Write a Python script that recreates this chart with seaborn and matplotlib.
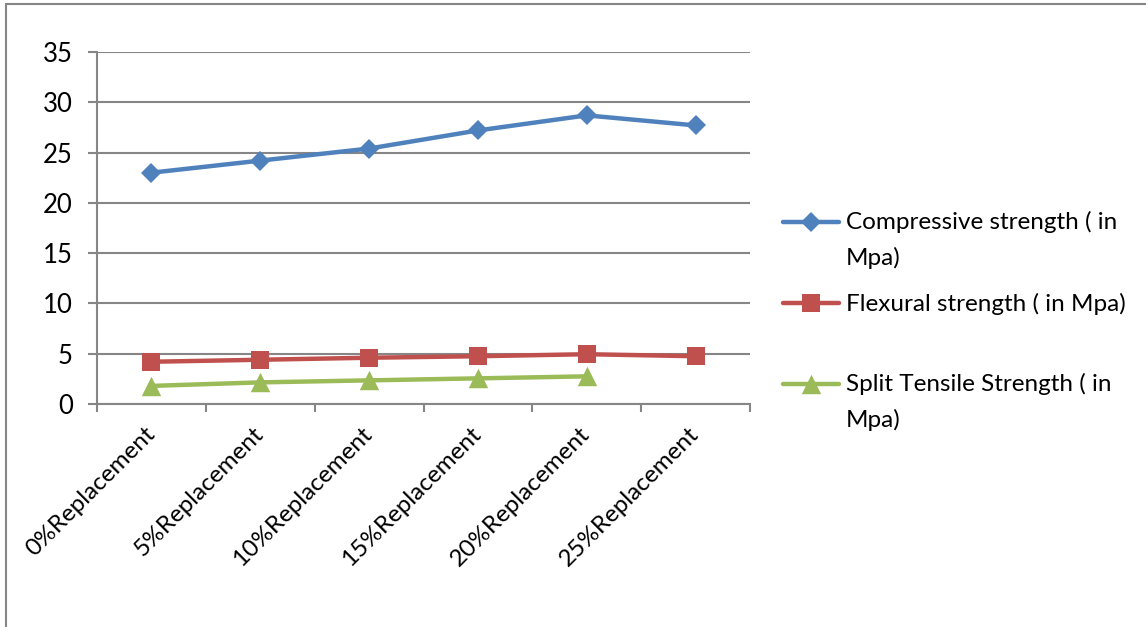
import numpy as np
import matplotlib
matplotlib.use("Agg")
import matplotlib.pyplot as plt
from matplotlib.patches import Rectangle
from matplotlib.path import Path
from matplotlib.transforms import ScaledTranslation
import seaborn as sns

# Strength test results for increasing replacement levels
categories = ["0%Replacement", "5%Replacement", "10%Replacement",
              "15%Replacement", "20%Replacement", "25%Replacement"]
compressive = [23.0, 24.2, 25.4, 27.2, 28.7, 27.7]
flexural = [4.2, 4.4, 4.6, 4.75, 4.95, 4.75]
split_tensile = [1.8, 2.15, 2.35, 2.55, 2.75, np.nan]
series_labels = ["Compressive strength ( in\nMpa)",
                 "Flexural strength ( in Mpa)\n",
                 "Split Tensile Strength ( in\nMpa)"]
y_ticks = [0, 5, 10, 15, 20, 25, 30, 35]

sns.set_theme(style="white")
plt.rcParams["font.family"] = ["Lato", "DejaVu Sans"]
plt.rcParams["text.color"] = "black"
plt.rcParams["xtick.color"] = "black"
plt.rcParams["ytick.color"] = "black"

FS = 17.5
W, H = 1146, 627
fig = plt.figure(figsize=(W / 100, H / 100), dpi=100)
ax = fig.add_axes([97 / W, 1 - 404 / H, 653 / W, 352 / H])

GRID = "#868686"
triangle = Path([(-1, -1), (1, -1), (0, 1), (-1, -1)],
                [Path.MOVETO, Path.LINETO, Path.LINETO, Path.CLOSEPOLY])
styles = [("#4F81BD", "D", 10.5), ("#C0504D", "s", 13), ("#9BBB59", triangle, 14)]

for vals, label, (col, mk, ms) in zip([compressive, flexural, split_tensile],
                                      series_labels, styles):
    sns.lineplot(x=categories, y=vals, ax=ax, color=col, marker=mk,
                 markersize=ms, markeredgecolor=col, markerfacecolor=col,
                 markeredgewidth=0, linewidth=3.2, label=label, sort=False)

ax.set_xlim(-0.5, len(categories) - 0.5)
ax.set_ylim(0, 35)
ax.set_yticks(y_ticks)
ax.set_xlabel("")
ax.set_ylabel("")

ax.yaxis.grid(True, color=GRID, linewidth=1.5)
ax.xaxis.grid(False)
ax.set_axisbelow(True)
for side in ("top", "right"):
    ax.spines[side].set_visible(False)
for side in ("left", "bottom"):
    ax.spines[side].set_color(GRID)
    ax.spines[side].set_linewidth(1.5)

ax.tick_params(axis="y", left=True, length=6.5, width=1.5, color=GRID,
               direction="out", pad=11, labelsize=18.5)
ax.set_xticks(np.arange(-0.5, len(categories), 1), minor=True)
ax.tick_params(axis="x", which="major", length=0, pad=14, labelsize=FS)
ax.tick_params(axis="x", which="minor", bottom=True, length=5.5, width=1.5,
               color=GRID, direction="out")
shift = ScaledTranslation(0, -7 / 100, fig.dpi_scale_trans)
for lbl in ax.get_xticklabels():
    lbl.set_rotation(45)
    lbl.set_ha("right")
    lbl.set_va("center")
    lbl.set_rotation_mode("anchor")
    lbl.set_transform(lbl.get_transform() + shift)

ax.get_legend().remove()
handles, labels = ax.get_legend_handles_labels()
leg = fig.legend(handles, labels, loc="upper left",
                 bbox_to_anchor=(783 / W, 1 - 211 / H), frameon=False,
                 fontsize=FS, handlelength=2.3, handletextpad=0.3,
                 labelspacing=0.97, borderpad=0, borderaxespad=0)
for t in leg.get_texts():
    t.set_linespacing(1.78)
# keep each legend key level with the first line of its label
for h in leg.legend_handles:
    h.set_ydata(np.asarray(h.get_ydata()) + 13.2)

# chart-area border
fig.add_artist(Rectangle((6 / W, -1), 2, 2 - 4 / H, transform=fig.transFigure,
                         fill=False, edgecolor=GRID, linewidth=1.5))

fig.savefig("out.png", dpi=100)
